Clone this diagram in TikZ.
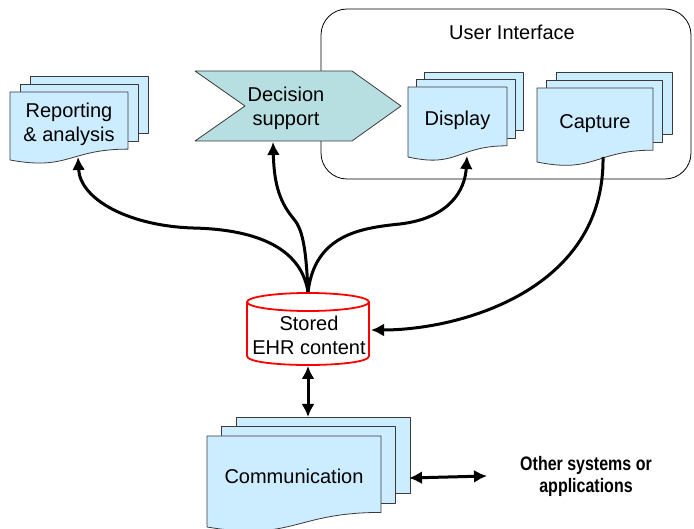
\documentclass[tikz,border=0pt]{standalone}
\usepackage{fontspec}
\setmainfont{Liberation Sans}
\newfontfamily\narrowbf[FakeStretch=0.82]{Liberation Sans Bold}
\usetikzlibrary{arrows.meta}
\definecolor{sheetfill}{HTML}{CCECFF}
\definecolor{sheetline}{HTML}{3A3A3A}
\definecolor{decfill}{HTML}{B7DEE0}
\definecolor{cylred}{HTML}{FF0000}
\tikzset{
  sheet/.style={fill=sheetfill, draw=sheetline, line width=0.8pt, line join=round},
  decshape/.style={fill=decfill, draw=sheetline, line width=0.8pt, line join=round},
  cylshape/.style={fill=white, draw=cylred, line width=1.8pt},
  uibox/.style={draw=black, line width=0.8pt, rounded corners=26pt},
  txt/.style={font=\fontsize{20}{24}\selectfont, align=center, inner sep=0pt},
  boldtxt/.style={font=\narrowbf\fontsize{19.5}{22}\selectfont, align=center, inner sep=0pt},
  conn/.style={line width=3pt, -{Latex[length=13pt,width=13pt]}},
  dconn/.style={line width=3pt, {Latex[length=13pt,width=13pt]}-{Latex[length=13pt,width=13pt]}},
}
% name, x0, y0, w, H, dx, dy, text, text-y fraction
\newcommand{\mdoc}[9]{%
  \foreach \k in {2,1}{%
    \path[sheet] ({#2+\k*#6},{#3-\k*#7}) rectangle ++(#4,{0.84*#5});
  }
  \path[sheet] (#2,#3) -- ++(#4,0) -- ++(0,{0.84*#5})
    .. controls ({#2+0.5*#4},{#3+0.84*#5}) and ({#2+0.5*#4},{#3+1.16*#5}) .. (#2,{#3+#5}) -- cycle;
  \node[txt] (#1) at ({#2+0.5*#4},{#3+#9*#5}) {#8};
}
\begin{document}
\begin{tikzpicture}[x=1pt,y=-1pt]
\useasboundingbox (0,0) rectangle (694,529);

% User interface frame
\path[uibox] (321,9) rectangle (691,179);
\node[txt] (ui) at (512,32) {User Interface};

% document stacks
\mdoc{rep}{10}{92}{118}{68}{10}{8}{Reporting\\\& analysis}{0.475}
\mdoc{disp}{408}{87}{99}{70}{8}{7.5}{Display}{0.475}
\mdoc{capt}{537}{88}{116}{74}{9.5}{8}{Capture}{0.475}
\mdoc{comm}{207}{436}{174}{91}{14.5}{9.5}{Communication}{0.44}

% decision support chevron
\path[decshape] (195,71) -- (352,71) -- (401,106) -- (352,141) -- (195,141) -- (245,106) -- cycle;
\node[txt] (dec) at (286,108) {Decision\\support};

% stored EHR content cylinder
\path[cylshape] (247,302) -- (247,356) .. controls (247,368) and (369,368) .. (369,356) -- (369,302);
\path[cylshape] (308,302) ellipse [x radius=61, y radius=9];
\node[txt] (ehr) at (309,335) {Stored\\EHR content};

% other systems
\node[boldtxt] (other) at (586,476) {Other systems or\\applications};

% connection points
\coordinate (ehr-t) at (308,292);
\coordinate (ehr-r) at (371,330);
\coordinate (ehr-b) at (308,366);
\coordinate (rep-b) at (78,157);
\coordinate (dec-b) at (273,142);
\coordinate (disp-b) at (467,156);
\coordinate (capt-b) at (603,157);
\coordinate (comm-t) at (308,417);
\coordinate (comm-r) at (409,478);
\coordinate (other-l) at (487,476);

% connectors
\draw[conn] (ehr-t) .. controls (300,240) and (240,229) .. (193,228)
  .. controls (130,226) and (80,200) .. (rep-b);
\draw[conn] (ehr-t) .. controls (306,245) and (302,228) .. (293,218)
  .. controls (278,200) and (274,180) .. (dec-b);
\draw[conn] (ehr-t) .. controls (315,235) and (360,228) .. (400,224)
  .. controls (450,218) and (465,190) .. (disp-b);
\draw[conn] (capt-b) .. controls (605,290) and (460,330) .. (ehr-r);
\draw[dconn] (ehr-b) -- (comm-t);
\draw[dconn] (comm-r) -- (other-l);
\end{tikzpicture}
\end{document}
